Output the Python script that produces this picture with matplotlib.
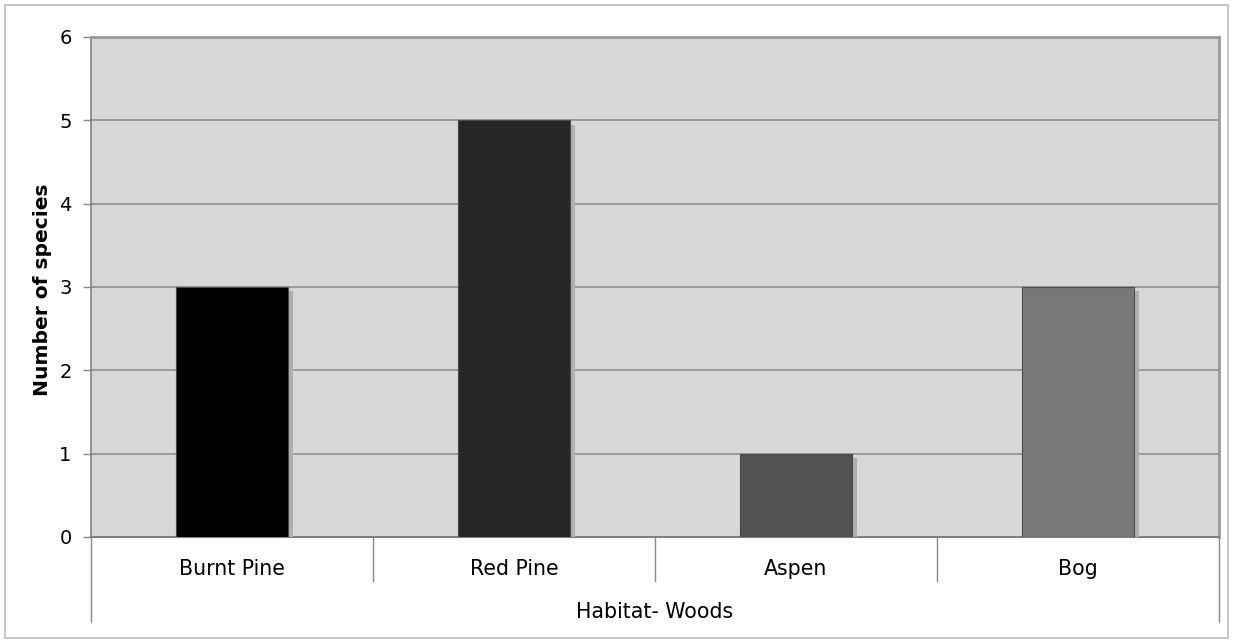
import matplotlib
matplotlib.use("Agg")
import matplotlib.pyplot as plt
import matplotlib.patheffects as pe
from matplotlib.patches import Rectangle
import matplotlib.transforms as mtransforms

categories = ["Burnt Pine", "Red Pine", "Aspen", "Bog"]
values = [3, 5, 1, 3]
bar_colors = ["#000000", "#262626", "#525252", "#787878"]
y_ticks = [0, 1, 2, 3, 4, 5, 6]
x_label = "Habitat- Woods"
y_label = "Number of species"

W, H = 1233, 642
fig = plt.figure(figsize=(W / 100, H / 100), dpi=100)
fig.patch.set_facecolor("white")
fig.patches.append(Rectangle((5 / W, 4 / H), (1228 - 5) / W, (637 - 4) / H,
                             transform=fig.transFigure, fill=False,
                             edgecolor="#BDBDBD", linewidth=1.2))

left, right, top, bottom = 91, 1219, 37, 537
ax = fig.add_axes([left / W, 1 - bottom / H, (right - left) / W, (bottom - top) / H])
ax.set_facecolor("#D7D7D7")

x = list(range(len(categories)))
bars = ax.bar(x, values, width=0.397, color=bar_colors, edgecolor="#4a4a4a",
              linewidth=0.8, zorder=3)
for b in bars:
    b.set_path_effects([pe.SimplePatchShadow(offset=(3.8, -3), shadow_rgbFace="#b0b0b0", alpha=1.0),
                        pe.Normal()])

ax.set_xlim(-0.5, len(categories) - 0.5)
ax.set_ylim(0, 6)
ax.set_yticks(y_ticks)
ax.yaxis.grid(True, color="#888888", linewidth=1.1, zorder=1)
ax.set_axisbelow(True)
ax.tick_params(axis="y", length=6, width=1, color="#8a8a8a", labelsize=14, pad=8)
ax.set_xticks([])

for s in ["top", "right"]:
    ax.spines[s].set_color("#9a9a9a")
    ax.spines[s].set_linewidth(2)
ax.spines["left"].set_color("#808080")
ax.spines["left"].set_linewidth(1.2)
ax.spines["bottom"].set_color("#808080")
ax.spines["bottom"].set_linewidth(1.5)

trans = mtransforms.blended_transform_factory(ax.transData, ax.transAxes)
h = bottom - top
for i in range(len(categories) + 1):
    xb = i - 0.5
    ylow = -(622 - bottom) / h if i in (0, len(categories)) else -(581 - bottom) / h
    ax.plot([xb, xb], [0, ylow], transform=trans, color="#8a8a8a", linewidth=1,
            clip_on=False)

for i, c in enumerate(categories):
    ax.text(i, -(569 - bottom) / h, c, transform=trans, ha="center", va="center",
            fontsize=14.8)

ax.text(0.5, -(612 - bottom) / h, x_label, transform=ax.transAxes, ha="center",
        va="center", fontsize=14.8)
fig.text(43 / W, 1 - 290 / H, y_label, rotation=90, ha="center", va="center",
         fontsize=14.6, fontweight="bold")

fig.savefig("out.png", dpi=100)
